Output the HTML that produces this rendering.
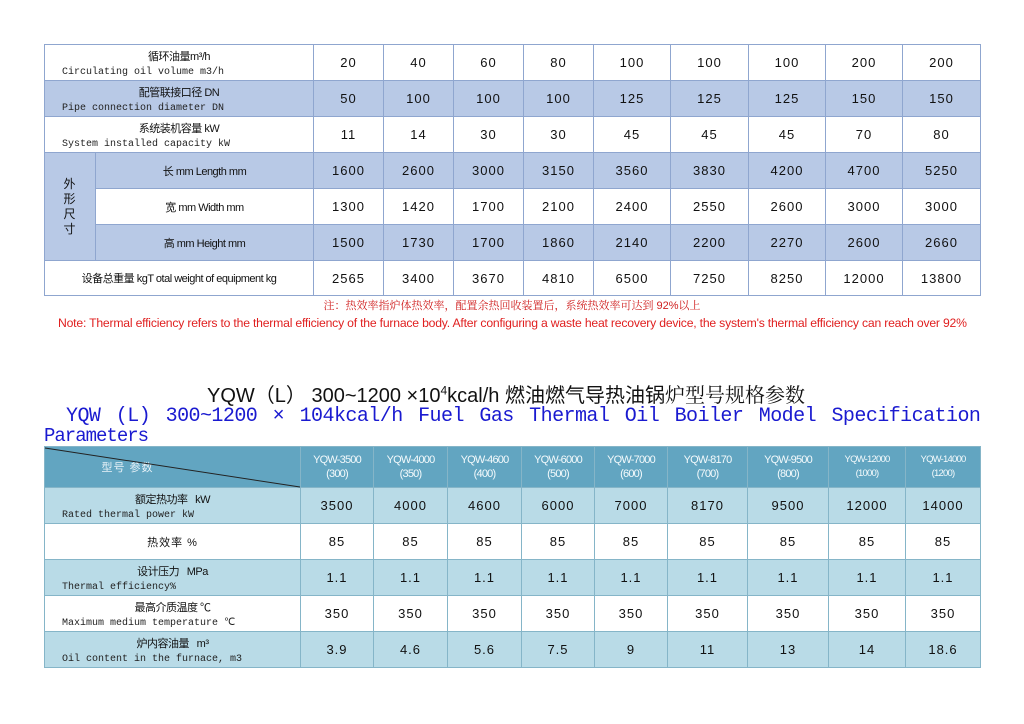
<!DOCTYPE html>
<html><head><meta charset="utf-8">
<style>
body{margin:0;width:1024px;height:724px;background:#fff;position:relative;overflow:hidden;font-family:"Liberation Sans","Noto Sans CJK SC",sans-serif;}
.c{position:absolute;box-sizing:border-box;display:flex;align-items:center;justify-content:center;font-size:13px;color:#111;letter-spacing:1px;}
.lab{position:absolute;box-sizing:border-box;font-size:11px;color:#111;}
.lab .zh{position:absolute;left:0;right:0;text-align:center;top:3px;font-size:11px;letter-spacing:-0.5px;}
.lab .en{position:absolute;left:17px;bottom:2px;font-family:"Liberation Mono",monospace;font-size:10px;color:#222;}
.t{position:absolute;white-space:nowrap;}
</style></head><body>
<div id="root"></div>
<div class="t" style="left:0;width:1024px;top:297px;text-align:center;color:#d02020;font-size:11px;font-family:'Liberation Sans','Noto Serif CJK SC',serif;">注：热效率指炉体热效率，配置余热回收装置后，系统热效率可达到 92%以上</div>
<div class="t" style="left:58px;top:316px;color:#e02020;font-size:12.2px;letter-spacing:-0.2px;">Note: Thermal efficiency refers to the thermal efficiency of the furnace body. After configuring a waste heat recovery device, the system's thermal efficiency can reach over 92%</div>
<div class="t" style="left:207px;top:379px;font-size:20px;color:#111;">YQW（L） 300~1200 ×10<sup style="font-size:12px">4</sup>kcal/h 燃油燃气导热油锅<span style="font-family:'Noto Serif CJK SC',serif">炉型号规格参数</span></div>
<div class="t" style="left:66px;top:405px;font-size:20px;color:#1a1ad0;font-family:'Liberation Mono',monospace;word-spacing:4px;letter-spacing:-0.55px;">YQW (L) 300~1200 × 104kcal/h Fuel Gas Thermal Oil Boiler Model Specification</div>
<div class="t" style="left:44px;top:425px;font-size:19px;color:#1a1ad0;font-family:'Liberation Mono',monospace;letter-spacing:-1px;">Parameters</div>
<script>
var R=document.getElementById('root');
function cell(x,y,w,h,bg,bc,html,cls){var d=document.createElement('div');d.className=cls||'c';d.style.cssText='left:'+x+'px;top:'+y+'px;width:'+w+'px;height:'+h+'px;background:'+bg+';border:1px solid '+bc+';';d.innerHTML=html;R.appendChild(d);}
var X1=[313,383,453,523,593,670,748,825,902,980];
var Y1=[44,80,116,152,188,224,260,295];
var B1='#b8c9e6',W='#fff',BC1='#8fa6cf';
var rows1=[["20","40","60","80","100","100","100","200","200"],["50","100","100","100","125","125","125","150","150"],["11","14","30","30","45","45","45","70","80"],["1600","2600","3000","3150","3560","3830","4200","4700","5250"],["1300","1420","1700","2100","2400","2550","2600","3000","3000"],["1500","1730","1700","1860","2140","2200","2270","2600","2660"],["2565","3400","3670","4810","6500","7250","8250","12000","13800"]];
var bg1=[W,B1,W,B1,W,B1,W];
var lab1=[['循环油量m³/h','Circulating oil volume m3/h'],['配管联接口径 DN','Pipe connection diameter DN'],['系统装机容量 kW','System installed capacity kW']];
for(var r=0;r<7;r++){var y=Y1[r],h=Y1[r+1]-y;
 for(var i=0;i<9;i++)cell(X1[i],y,X1[i+1]-X1[i]+1,h+1,bg1[r],BC1,rows1[r][i]);
 if(r<3)cell(44,y,270,h+1,bg1[r],BC1,'<div class="zh">'+lab1[r][0]+'</div><div class="en" style="left:17px">'+lab1[r][1]+'</div>','lab');
 else if(r<6)cell(95,y,219,h+1,bg1[r],BC1,['长 mm  Length mm','宽 mm  Width mm','高 mm  Height mm'][r-3]);
 else cell(44,y,270,h+1,W,BC1,'设备总重量 kgT otal weight of equipment kg');
 if(r==6)R.lastChild.style.fontSize='11px',R.lastChild.style.letterSpacing='-0.5px';
 if(r>=3&&r<6){R.lastChild.style.fontSize='11px';R.lastChild.style.letterSpacing='-0.5px';}
}
cell(44,152,52,109,B1,BC1,'外<br>形<br>尺<br>寸');R.lastChild.style.lineHeight='15px';R.lastChild.style.textAlign='center';R.lastChild.style.fontSize='12px';
var X2=[300,373,447,521,594,667,747,828,905,980];
var Y2=[446,487,523,559,595,631,667];
var HB='#62a5c1',L2='#b9dbe7',BC2='#85b5c8';
var hd=['YQW-3500<br>(300)','YQW-4000<br>(350)','YQW-4600<br>(400)','YQW-6000<br>(500)','YQW-7000<br>(600)','YQW-8170<br>(700)','YQW-9500<br>(800)','YQW-12000<br>(1000)','YQW-14000<br>(1200)'];
cell(44,446,257,42,HB,BC2,'<span style="color:#e8f2f8;font-size:11px;margin-right:90px">型号 参数</span>');
for(var i=0;i<9;i++){cell(X2[i],446,X2[i+1]-X2[i]+1,42,HB,BC2,hd[i]);var s=R.lastChild.style;s.color='#f4fafc';s.fontSize=i>6?'9.5px':'11px';s.letterSpacing='-0.8px';s.lineHeight='14px';s.textAlign='center';}
var rows2=[["3500","4000","4600","6000","7000","8170","9500","12000","14000"],["85","85","85","85","85","85","85","85","85"],["1.1","1.1","1.1","1.1","1.1","1.1","1.1","1.1","1.1"],["350","350","350","350","350","350","350","350","350"],["3.9","4.6","5.6","7.5","9","11","13","14","18.6"]];
var bg2=[L2,W,L2,W,L2];
var lab2=[['额定热功率 &nbsp; kW','Rated thermal power kW'],['热效率 %',''],['设计压力 &nbsp; MPa','Thermal efficiency%'],['最高介质温度 ℃','Maximum medium temperature ℃'],['炉内容油量 &nbsp; m³','Oil content in the furnace, m3']];
for(var r=0;r<5;r++){var y=Y2[r+1],h=Y2[r+2]-y;
 for(var i=0;i<9;i++)cell(X2[i],y,X2[i+1]-X2[i]+1,h+1,bg2[r],BC2,rows2[r][i]);
 if(r==1)cell(44,y,257,h+1,W,BC2,'<span style="font-size:11px">热效率 %</span>');
 else cell(44,y,257,h+1,bg2[r],BC2,'<div class="zh">'+lab2[r][0]+'</div><div class="en">'+lab2[r][1]+'</div>','lab');
}
</script>
<svg style="position:absolute;left:0;top:0" width="1024" height="724"><line x1="45" y1="448" x2="300" y2="487" stroke="#222" stroke-width="1"/></svg>
</body></html>
